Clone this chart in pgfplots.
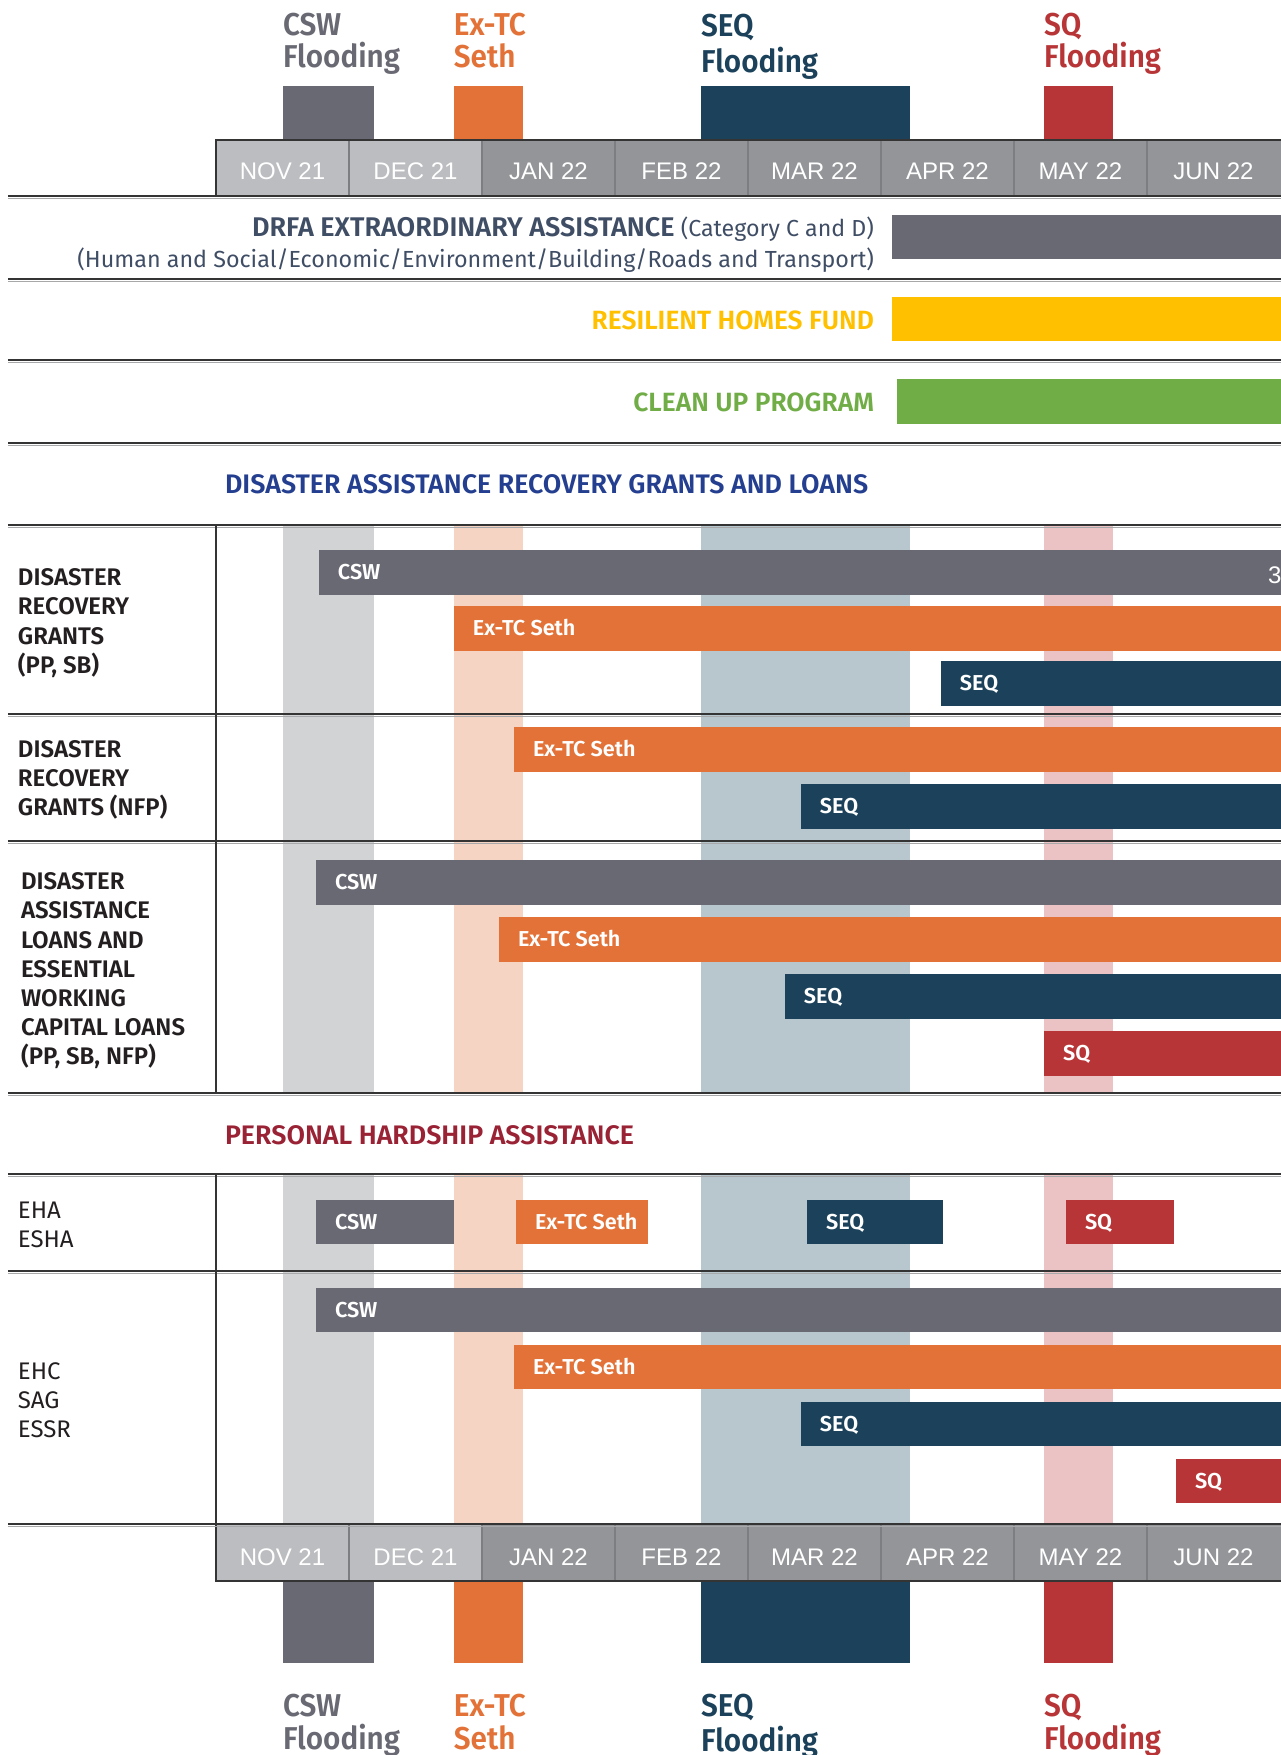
\documentclass[border=0pt]{standalone}
\usepackage{fontspec}
\usepackage{pgfplots}
\pgfplotsset{compat=1.18}
\setmainfont{Fira Sans}
\IfFontExistsTF{Fira Sans SemiBold}{\newfontfamily\fsb{Fira Sans SemiBold}\newfontfamily\fev{Fira Sans SemiBold}[FakeStretch=0.94]}{\newcommand\fsb{\bfseries}\newcommand\fev{\bfseries}}
\IfFontExistsTF{Fira Sans Medium}{\newfontfamily\fmd{Fira Sans Medium}}{\newcommand\fmd{\bfseries}}
\newfontfamily\lib{Liberation Sans}
\definecolor{csw}{HTML}{696973}
\definecolor{tc}{HTML}{E27237}
\definecolor{seq}{HTML}{1B425A}
\definecolor{sq}{HTML}{B83537}
\definecolor{cswl}{HTML}{D2D3D5}
\definecolor{tcl}{HTML}{F5D4C4}
\definecolor{seql}{HTML}{B8C6CE}
\definecolor{sql}{HTML}{EBC3C4}
\definecolor{hdrl}{HTML}{BCBDC0}
\definecolor{hdrd}{HTML}{939598}
\definecolor{sepc}{HTML}{7D7E81}
\definecolor{rhf}{HTML}{FFC000}
\definecolor{cup}{HTML}{70AD47}
\definecolor{drfa}{HTML}{3F4D65}
\definecolor{secblue}{HTML}{243F8F}
\definecolor{secred}{HTML}{9A2235}
\definecolor{lbl}{HTML}{231F20}
\definecolor{rulec}{HTML}{343434}
\definecolor{ruleg}{HTML}{A7A8AA}
% bar: x0, x1, ytop, ybottom, colour
\newcommand{\gbar}[5]{\addplot[fill=#5,draw=none,forget plot] coordinates {(#1,#3) (#2,#3) (#2,#4) (#1,#4)};}
\newcommand{\hln}[1]{\addplot[draw=ruleg,line width=0.6pt,forget plot] coordinates {(-1.564,#1+2.2) (8.1,#1+2.2)};
  \addplot[draw=rulec,line width=1.2pt,forget plot] coordinates {(-1.564,#1) (8.1,#1)};}
\newcommand{\vln}[2]{\addplot[draw=rulec,line width=1.1pt,forget plot] coordinates {(0,#1) (0,#2)};}
\newcommand{\blab}[3]{\node[anchor=base west,font={\fsb\fontsize{10.8}{12}\selectfont},text=white,xshift=9.5pt] at (axis cs:#1,#2) {#3};}
\newcommand{\rlab}[3]{\node[anchor=base west,font={\fsb\fontsize{12}{14}\selectfont},text=lbl] at (axis cs:#1,#2) {#3};}
\newcommand{\elab}[4]{\node[anchor=base west,font={\fev\fontsize{15.8}{18}\selectfont},text=#4] at (axis cs:#1,#2) {#3};}
\newcommand{\mlab}[3]{\node[anchor=base,font={\lib\fontsize{12}{14}\selectfont},text=white] at (axis cs:#1,#2) {#3};}
\begin{document}
\begin{tikzpicture}[every node/.append style={inner sep=0pt,outer sep=0pt}]
\begin{axis}[name=ax,scale only axis,width=640.5pt,height=877.5pt,
  xmin=-1.6241,xmax=8.0075,ymin=0,ymax=1755,y dir=reverse,
  axis lines=none,ticks=none,clip=true,unbounded coords=jump]
% background event bands
\gbar{0.504}{1.188}{525}{1093}{cswl}
\gbar{1.789}{2.308}{525}{1093}{tcl}
\gbar{3.647}{5.218}{525}{1093}{seql}
\gbar{6.226}{6.744}{525}{1093}{sql}
\gbar{0.504}{1.188}{1174}{1524}{cswl}
\gbar{1.789}{2.308}{1174}{1524}{tcl}
\gbar{3.647}{5.218}{1174}{1524}{seql}
\gbar{6.226}{6.744}{1174}{1524}{sql}
% event markers top and bottom
\gbar{0.504}{1.188}{86}{140}{csw}
\gbar{1.789}{2.308}{86}{140}{tc}
\gbar{3.647}{5.218}{86}{140}{seq}
\gbar{6.226}{6.744}{86}{140}{sq}
\gbar{0.504}{1.188}{1581}{1663}{csw}
\gbar{1.789}{2.308}{1581}{1663}{tc}
\gbar{3.647}{5.218}{1581}{1663}{seq}
\gbar{6.226}{6.744}{1581}{1663}{sq}
% month headers
\gbar{0}{2}{140}{196}{hdrl}
\gbar{2}{8.1}{140}{196}{hdrd}
\gbar{0}{2}{1524}{1581}{hdrl}
\gbar{2}{8.1}{1524}{1581}{hdrd}
\addplot[draw=sepc,line width=0.6pt,forget plot] coordinates {(1,140)(1,196)(1,nan)(2,140)(2,196)(2,nan)(3,140)(3,196)(3,nan)(4,140)(4,196)(4,nan)(5,140)(5,196)(5,nan)(6,140)(6,196)(6,nan)(7,140)(7,196)};
\addplot[draw=sepc,line width=0.6pt,forget plot] coordinates {(1,1524)(1,1581)(1,nan)(2,1524)(2,1581)(2,nan)(3,1524)(3,1581)(3,nan)(4,1524)(4,1581)(4,nan)(5,1524)(5,1581)(5,nan)(6,1524)(6,1581)(6,nan)(7,1524)(7,1581)};
\addplot[draw=rulec,line width=0.8pt,forget plot] coordinates {(8.1,140)(0,140)(0,196)};
\addplot[draw=rulec,line width=0.8pt,forget plot] coordinates {(0,1524)(0,1581)(8.1,1581)};
% programme bars
\gbar{5.083}{8.1}{215}{259}{csw}
\gbar{5.083}{8.1}{297}{341}{rhf}
\gbar{5.120}{8.1}{379}{424}{cup}
% Disaster recovery grants (PP, SB)
\gbar{0.774}{8.1}{550}{595}{csw}
\gbar{1.789}{8.1}{606}{651}{tc}
\gbar{5.451}{8.1}{661}{706}{seq}
% Disaster recovery grants (NFP)
\gbar{2.241}{8.1}{727}{772}{tc}
\gbar{4.398}{8.1}{784}{829}{seq}
% Loans
\gbar{0.752}{8.1}{860}{905}{csw}
\gbar{2.128}{8.1}{917}{962}{tc}
\gbar{4.278}{8.1}{974}{1019}{seq}
\gbar{6.226}{8.1}{1031}{1076}{sq}
% EHA ESHA
\gbar{0.752}{1.789}{1200}{1244}{csw}
\gbar{2.256}{3.248}{1200}{1244}{tc}
\gbar{4.444}{5.466}{1200}{1244}{seq}
\gbar{6.391}{7.203}{1200}{1244}{sq}
% EHC SAG ESSR
\gbar{0.752}{8.1}{1288}{1332}{csw}
\gbar{2.241}{8.1}{1345}{1389}{tc}
\gbar{4.398}{8.1}{1402}{1446}{seq}
\gbar{7.218}{8.1}{1459}{1503}{sq}
% rules
\hln{196}\hln{279}\hln{360}\hln{443}\hln{525}\hln{714}\hln{841}\hln{1093}\hln{1174}\hln{1271}\hln{1524}
\vln{525}{1093}\vln{1174}{1524}
% month labels
\mlab{0.5}{179.7}{NOV 21}\mlab{1.5}{179.7}{DEC 21}\mlab{2.5}{179.7}{JAN 22}\mlab{3.5}{179.7}{FEB 22}
\mlab{4.5}{179.7}{MAR 22}\mlab{5.5}{179.7}{APR 22}\mlab{6.5}{179.7}{MAY 22}\mlab{7.5}{179.7}{JUN 22}
\mlab{0.5}{1565.7}{NOV 21}\mlab{1.5}{1565.7}{DEC 21}\mlab{2.5}{1565.7}{JAN 22}\mlab{3.5}{1565.7}{FEB 22}
\mlab{4.5}{1565.7}{MAR 22}\mlab{5.5}{1565.7}{APR 22}\mlab{6.5}{1565.7}{MAY 22}\mlab{7.5}{1565.7}{JUN 22}
% event titles
\elab{0.504}{35.5}{CSW}{csw}\elab{0.504}{67.5}{Flooding}{csw}
\elab{1.789}{35.5}{Ex-TC}{tc}\elab{1.789}{67.5}{Seth}{tc}
\elab{3.647}{36}{SEQ}{seq}\elab{3.647}{72}{Flooding}{seq}
\elab{6.226}{35.5}{SQ}{sq}\elab{6.226}{67.5}{Flooding}{sq}
\elab{0.504}{1716}{CSW}{csw}\elab{0.504}{1749}{Flooding}{csw}
\elab{1.789}{1716}{Ex-TC}{tc}\elab{1.789}{1749}{Seth}{tc}
\elab{3.647}{1716}{SEQ}{seq}\elab{3.647}{1751}{Flooding}{seq}
\elab{6.226}{1716}{SQ}{sq}\elab{6.226}{1749}{Flooding}{sq}
% programme texts
\node[anchor=base east,font={\fontsize{11.6}{14}\selectfont},text=drfa] at (axis cs:4.947,236.5) {{\fsb\fontsize{13.5}{14}\selectfont DRFA EXTRAORDINARY ASSISTANCE} (Category C and D)};
\node[anchor=base east,font={\fontsize{11.65}{14}\selectfont},text=drfa] at (axis cs:4.947,267) {(Human and Social/Economic/Environment/Building/Roads and Transport)};
\node[anchor=base east,font={\fsb\fontsize{13.2}{14}\selectfont},text=rhf] at (axis cs:4.947,329) {RESILIENT HOMES FUND};
\node[anchor=base east,font={\fsb\fontsize{13.2}{14}\selectfont},text=cup] at (axis cs:4.947,411) {CLEAN UP PROGRAM};
% section titles
\node[anchor=base west,font={\fsb\fontsize{13.4}{14}\selectfont},text=secblue] at (axis cs:0.068,493) {DISASTER ASSISTANCE RECOVERY GRANTS AND LOANS};
\node[anchor=base west,font={\fsb\fontsize{13.4}{14}\selectfont},text=secred] at (axis cs:0.068,1144) {PERSONAL HARDSHIP ASSISTANCE};
% row labels
\rlab{-1.489}{585}{DISASTER}\rlab{-1.489}{614}{RECOVERY}\rlab{-1.489}{644}{GRANTS}\rlab{-1.489}{673}{(PP, SB)}
\rlab{-1.489}{757.5}{DISASTER}\rlab{-1.489}{786.5}{RECOVERY}\rlab{-1.489}{815.5}{GRANTS (NFP)}
\rlab{-1.466}{889.5}{DISASTER}\rlab{-1.466}{918.5}{ASSISTANCE}\rlab{-1.466}{948}{LOANS AND}\rlab{-1.466}{977}{ESSENTIAL}
\rlab{-1.466}{1006}{WORKING}\rlab{-1.466}{1035}{CAPITAL LOANS}\rlab{-1.466}{1064}{(PP, SB, NFP)}
\node[anchor=base west,font={\fontsize{12}{14}\selectfont},text=lbl] at (axis cs:-1.489,1218) {EHA};
\node[anchor=base west,font={\fontsize{12}{14}\selectfont},text=lbl] at (axis cs:-1.489,1247) {ESHA};
\node[anchor=base west,font={\fontsize{12}{14}\selectfont},text=lbl] at (axis cs:-1.489,1379) {EHC};
\node[anchor=base west,font={\fontsize{12}{14}\selectfont},text=lbl] at (axis cs:-1.489,1408) {SAG};
\node[anchor=base west,font={\fontsize{12}{14}\selectfont},text=lbl] at (axis cs:-1.489,1437) {ESSR};
% bar labels
\blab{0.774}{579.5}{CSW}\blab{1.789}{635.5}{Ex-TC Seth}\blab{5.451}{690.5}{SEQ}
\blab{2.241}{756.5}{Ex-TC Seth}\blab{4.398}{813.5}{SEQ}
\blab{0.752}{889.5}{CSW}\blab{2.128}{946.5}{Ex-TC Seth}\blab{4.278}{1003.5}{SEQ}\blab{6.226}{1060.5}{SQ}
\blab{0.752}{1229.5}{CSW}\blab{2.256}{1229.5}{Ex-TC Seth}\blab{4.444}{1229.5}{SEQ}\blab{6.391}{1229.5}{SQ}
\blab{0.752}{1317.5}{CSW}\blab{2.241}{1374.5}{Ex-TC Seth}\blab{4.398}{1431.5}{SEQ}\blab{7.218}{1488.5}{SQ}
\node[anchor=base west,font={\lib\fontsize{12}{14}\selectfont},text=white] at (axis cs:7.91,583) {31};
\end{axis}
\pgfresetboundingbox
\path (ax.south west) rectangle (ax.north east);
\end{tikzpicture}
\end{document}
